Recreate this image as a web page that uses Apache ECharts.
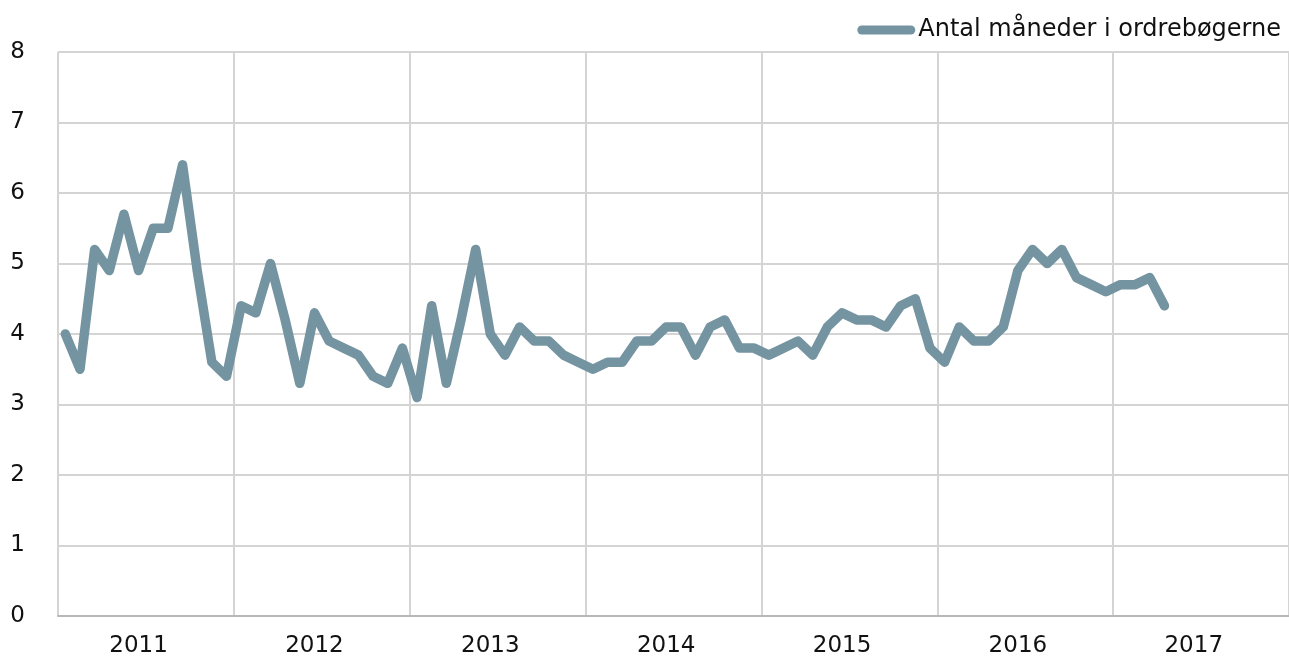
<!DOCTYPE html>
<html>
<head>
<meta charset="utf-8">
<script src="https://cdn.jsdelivr.net/npm/echarts@6/dist/echarts.min.js"></script>
<style>
  html, body { margin: 0; padding: 0; background: #fff; }
  #main { width: 1289px; height: 658px; }
</style>
</head>
<body>
<div id="main"></div>
<script>
  // monthly observations, jan 2011 .. apr 2017
  const years = ["2011", "2012", "2013", "2014", "2015", "2016", "2017"];
  const months = [];
  years.forEach((y) => {
    for (let m = 1; m <= 12; m++) months.push(y + "-" + (m < 10 ? "0" + m : m));
  });

  const seriesName = "Antal måneder i ordrebøgerne";
  const values2011 = [4.0, 3.5, 5.2, 4.9, 5.7, 4.9, 5.5, 5.5, 6.4, 4.9, 3.6, 3.4];
  const values2012 = [4.4, 4.3, 5.0, 4.2, 3.3, 4.3, 3.9, 3.8, 3.7, 3.4, 3.3, 3.8];
  const values2013 = [3.1, 4.4, 3.3, 4.2, 5.2, 4.0, 3.7, 4.1, 3.9, 3.9, 3.7, 3.6];
  const values2014 = [3.5, 3.6, 3.6, 3.9, 3.9, 4.1, 4.1, 3.7, 4.1, 4.2, 3.8, 3.8];
  const values2015 = [3.7, 3.8, 3.9, 3.7, 4.1, 4.3, 4.2, 4.2, 4.1, 4.4, 4.5, 3.8];
  const values2016 = [3.6, 4.1, 3.9, 3.9, 4.1, 4.9, 5.2, 5.0, 5.2, 4.8, 4.7, 4.6];
  const values2017 = [4.7, 4.7, 4.8, 4.4];

  const values = [].concat(values2011, values2012, values2013, values2014, values2015, values2016, values2017);

  const chartDom = document.getElementById("main");
  const myChart = echarts.init(chartDom);
  const font = "DejaVu Sans, Verdana, sans-serif";

  const option = {
    animation: false,
    color: ["#7594a1"],
    textStyle: { fontFamily: font },
    grid: { left: 58, right: 0, top: 52, bottom: 42 },
    legend: {
      right: 3,
      top: 13,
      itemWidth: 58,
      itemHeight: 9,
      icon: "path://M4.5,0 H53.5 A4.5,4.5 0 0 1 53.5,9 H4.5 A4.5,4.5 0 0 1 4.5,0 Z",
      textStyle: { fontSize: 24, color: "#111", fontFamily: font, padding: [0, 0, 0, -2] },
      data: [seriesName],
    },
    xAxis: {
      type: "category",
      data: months,
      boundaryGap: true,
      axisLine: { lineStyle: { color: "#b8b8b8", width: 2 } },
      axisTick: { show: false },
      axisLabel: {
        interval: (i) => i % 12 === 5,
        formatter: (v) => v.slice(0, 4),
        fontSize: 23,
        color: "#111",
        margin: 19,
      },
      splitLine: {
        show: true,
        interval: (i) => i % 12 === 0,
        lineStyle: { color: "#d4d4d4", width: 2 },
      },
    },
    yAxis: {
      type: "value",
      min: 0,
      max: 8,
      interval: 1,
      axisLine: { show: false },
      axisTick: { show: false },
      axisLabel: { fontSize: 23, color: "#111", margin: 33 },
      splitLine: { lineStyle: { color: "#d4d4d4", width: 2 } },
    },
    series: [
      {
        name: seriesName,
        type: "line",
        data: values,
        showSymbol: false,
        lineStyle: { width: 9.5, cap: "round", join: "round" },
      },
    ],
  };
  option && myChart.setOption(option);
</script>
</body>
</html>
